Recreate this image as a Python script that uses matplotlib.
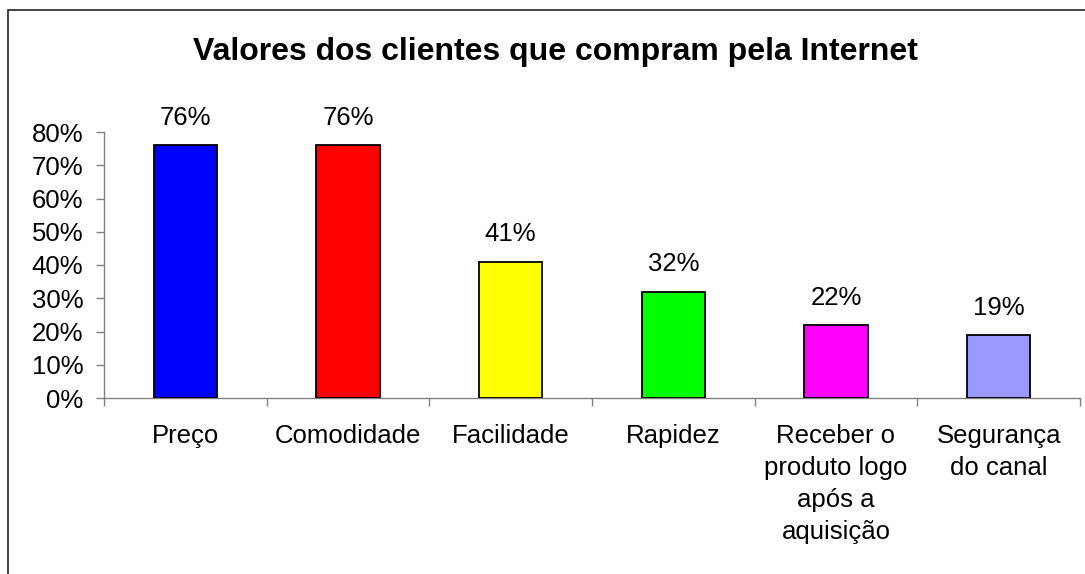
import matplotlib
matplotlib.use("Agg")
import matplotlib.pyplot as plt
import numpy as np
from matplotlib.patches import Rectangle

plt.rcParams['font.family'] = ['Liberation Sans', 'DejaVu Sans']

categories = ["Preço", "Comodidade", "Facilidade", "Rapidez",
              "Receber o\nproduto logo\napós a\naquisição", "Segurança\ndo canal"]
values = [76, 76, 41, 32, 22, 19]
colors = ["#0000FF", "#FF0000", "#FFFF00", "#00FF00", "#FF00FF", "#9999FF"]
yticks = [0, 10, 20, 30, 40, 50, 60, 70, 80]

W, H = 1085, 574
FS = 18.5
fig = plt.figure(figsize=(W/100, H/100), dpi=100)
ax = fig.add_axes([104/W, 1-398/H, (1080-104)/W, (398-132)/H])

x = np.arange(len(categories))
ax.bar(x, values, width=0.39, color=colors, edgecolor='black', linewidth=1.3, zorder=3)
for xi, v in zip(x, values):
    ax.annotate(f"{v}%", (xi, v), xytext=(0, 11), textcoords='offset points',
                ha='center', va='bottom', fontsize=FS)

ax.set_xlim(-0.5, len(categories)-0.5)
ax.set_ylim(0, 80)
ax.set_yticks(yticks)
ax.set_yticklabels([f"{t}%" for t in yticks])
ax.set_xticks(np.arange(len(categories)+1) - 0.5)
ax.set_xticklabels([])
ax.set_xticks(x, minor=True)
ax.set_xticklabels(categories, minor=True, fontsize=FS, linespacing=1.42, va='top')
ax.tick_params(axis='x', which='major', length=6, color='#808080', width=1)
ax.tick_params(axis='x', which='minor', length=0, pad=19)
ax.tick_params(axis='y', length=6, color='#808080', width=1, labelsize=FS, pad=9)
for s in ['top', 'right']:
    ax.spines[s].set_visible(False)
for s in ['left', 'bottom']:
    ax.spines[s].set_color('#808080')
    ax.spines[s].set_linewidth(1)

fig.text(555/W, 1-52/H, "Valores dos clientes que compram pela Internet",
         ha='center', va='center', fontsize=23, fontweight='bold')

fig.patches.append(Rectangle((8/W, -0.1), 2, 1.1-10/H, transform=fig.transFigure,
                             fill=False, edgecolor='#222222', linewidth=1.2))

fig.savefig("out.png", dpi=100)
